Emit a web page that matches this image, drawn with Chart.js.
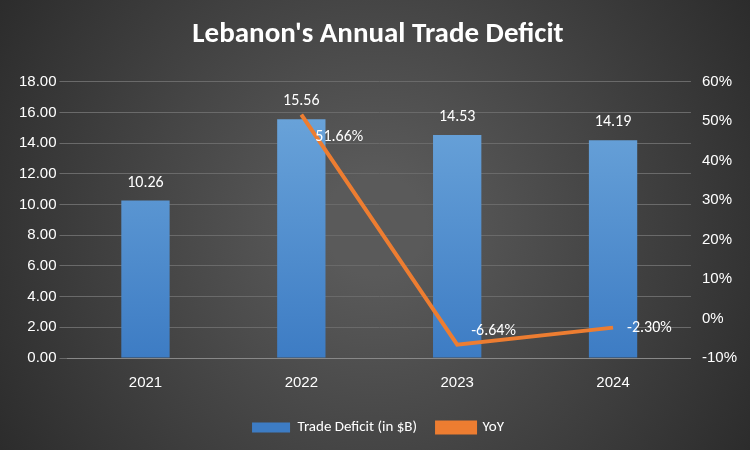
<!DOCTYPE html>
<html><head>
<script src="https://cdn.jsdelivr.net/npm/chart.js@4"></script>
<style>html,body{margin:0;padding:0;background:#333}#wrap{width:750px;height:450px}</style>
</head><body><div id="wrap"><canvas id="c"></canvas></div>
<script>
const years=['2021','2022','2023','2024'];
const deficit=[10.26,15.56,14.53,14.19];
const yoy=[null,51.66,-6.64,-2.30];

const bgPlugin={id:'bg',beforeDraw(ch){
  const {ctx,width,height}=ch;
  const g=ctx.createRadialGradient(width/2,height/2,50,width/2,height/2,width*0.65);
  g.addColorStop(0,'#5a5a5a');g.addColorStop(1,'#262626');
  ctx.save();ctx.fillStyle=g;ctx.fillRect(0,0,width,height);ctx.restore();
}};
const labelPlugin={id:'lbl',afterDatasetsDraw(ch){
  const {ctx}=ch;ctx.save();
  ctx.font='16px Calibri, Carlito, "Liberation Sans", sans-serif';ctx.fillStyle='#fff';
  ch.getDatasetMeta(0).data.forEach((b,i)=>{
    ctx.textAlign='center';ctx.textBaseline='bottom';
    ctx.fillText(deficit[i].toFixed(2),b.x,b.y-10);
  });
  const off=[0,22,-14,0];
  ch.getDatasetMeta(1).data.forEach((p,i)=>{
    if(yoy[i]==null)return;
    ctx.textAlign='left';ctx.textBaseline='middle';
    ctx.fillText(yoy[i].toFixed(2)+'%',p.x+14,p.y+off[i]);
  });
  ctx.restore();
}};
const grad=(c)=>{const {ctx,chartArea}=c.chart;if(!chartArea)return '#5b9bd5';
  const g=ctx.createLinearGradient(0,chartArea.top,0,chartArea.bottom);
  g.addColorStop(0,'#6fa8dc');g.addColorStop(1,'#3d7cc4');return g;};
new Chart(document.getElementById('c'),{
  data:{labels:years,datasets:[
    {type:'bar',label:'Trade Deficit (in $B)',data:deficit,backgroundColor:grad,yAxisID:'y',barPercentage:0.31,categoryPercentage:1,order:2},
    {type:'line',label:'YoY',data:yoy,borderColor:'#ed7d31',backgroundColor:'#ed7d31',borderWidth:4,pointRadius:0,yAxisID:'y1',order:1}
  ]},
  plugins:[bgPlugin,labelPlugin],
  options:{responsive:true,maintainAspectRatio:false,animation:false,
    layout:{padding:{left:16,right:10,top:5,bottom:5}},
    plugins:{
      title:{display:true,text:"Lebanon's Annual Trade Deficit",color:'#fff',font:{size:29,weight:'bold',family:'Calibri, Carlito, "Liberation Sans", sans-serif'},padding:{top:12,bottom:30}},
      legend:{position:'bottom',labels:{color:'#fff',font:{size:15,family:'Calibri, Carlito, "Liberation Sans", sans-serif'},boxWidth:38,boxHeight:10,padding:20,sort:(a,b)=>a.datasetIndex-b.datasetIndex}},
      tooltip:{enabled:false}
    },
    scales:{
      x:{grid:{display:false},border:{color:'#888'},ticks:{color:'#fff',font:{size:15},padding:8}},
      y:{min:0,max:18,ticks:{stepSize:2,color:'#fff',font:{size:15},callback:v=>v.toFixed(2)},grid:{color:'#6a6a6a'},border:{display:false}},
      y1:{position:'right',min:-10,max:60,ticks:{stepSize:10,color:'#fff',font:{size:15},callback:v=>v+'%'},grid:{display:false},border:{display:false}}
    }
  }
});
</script></body></html>
